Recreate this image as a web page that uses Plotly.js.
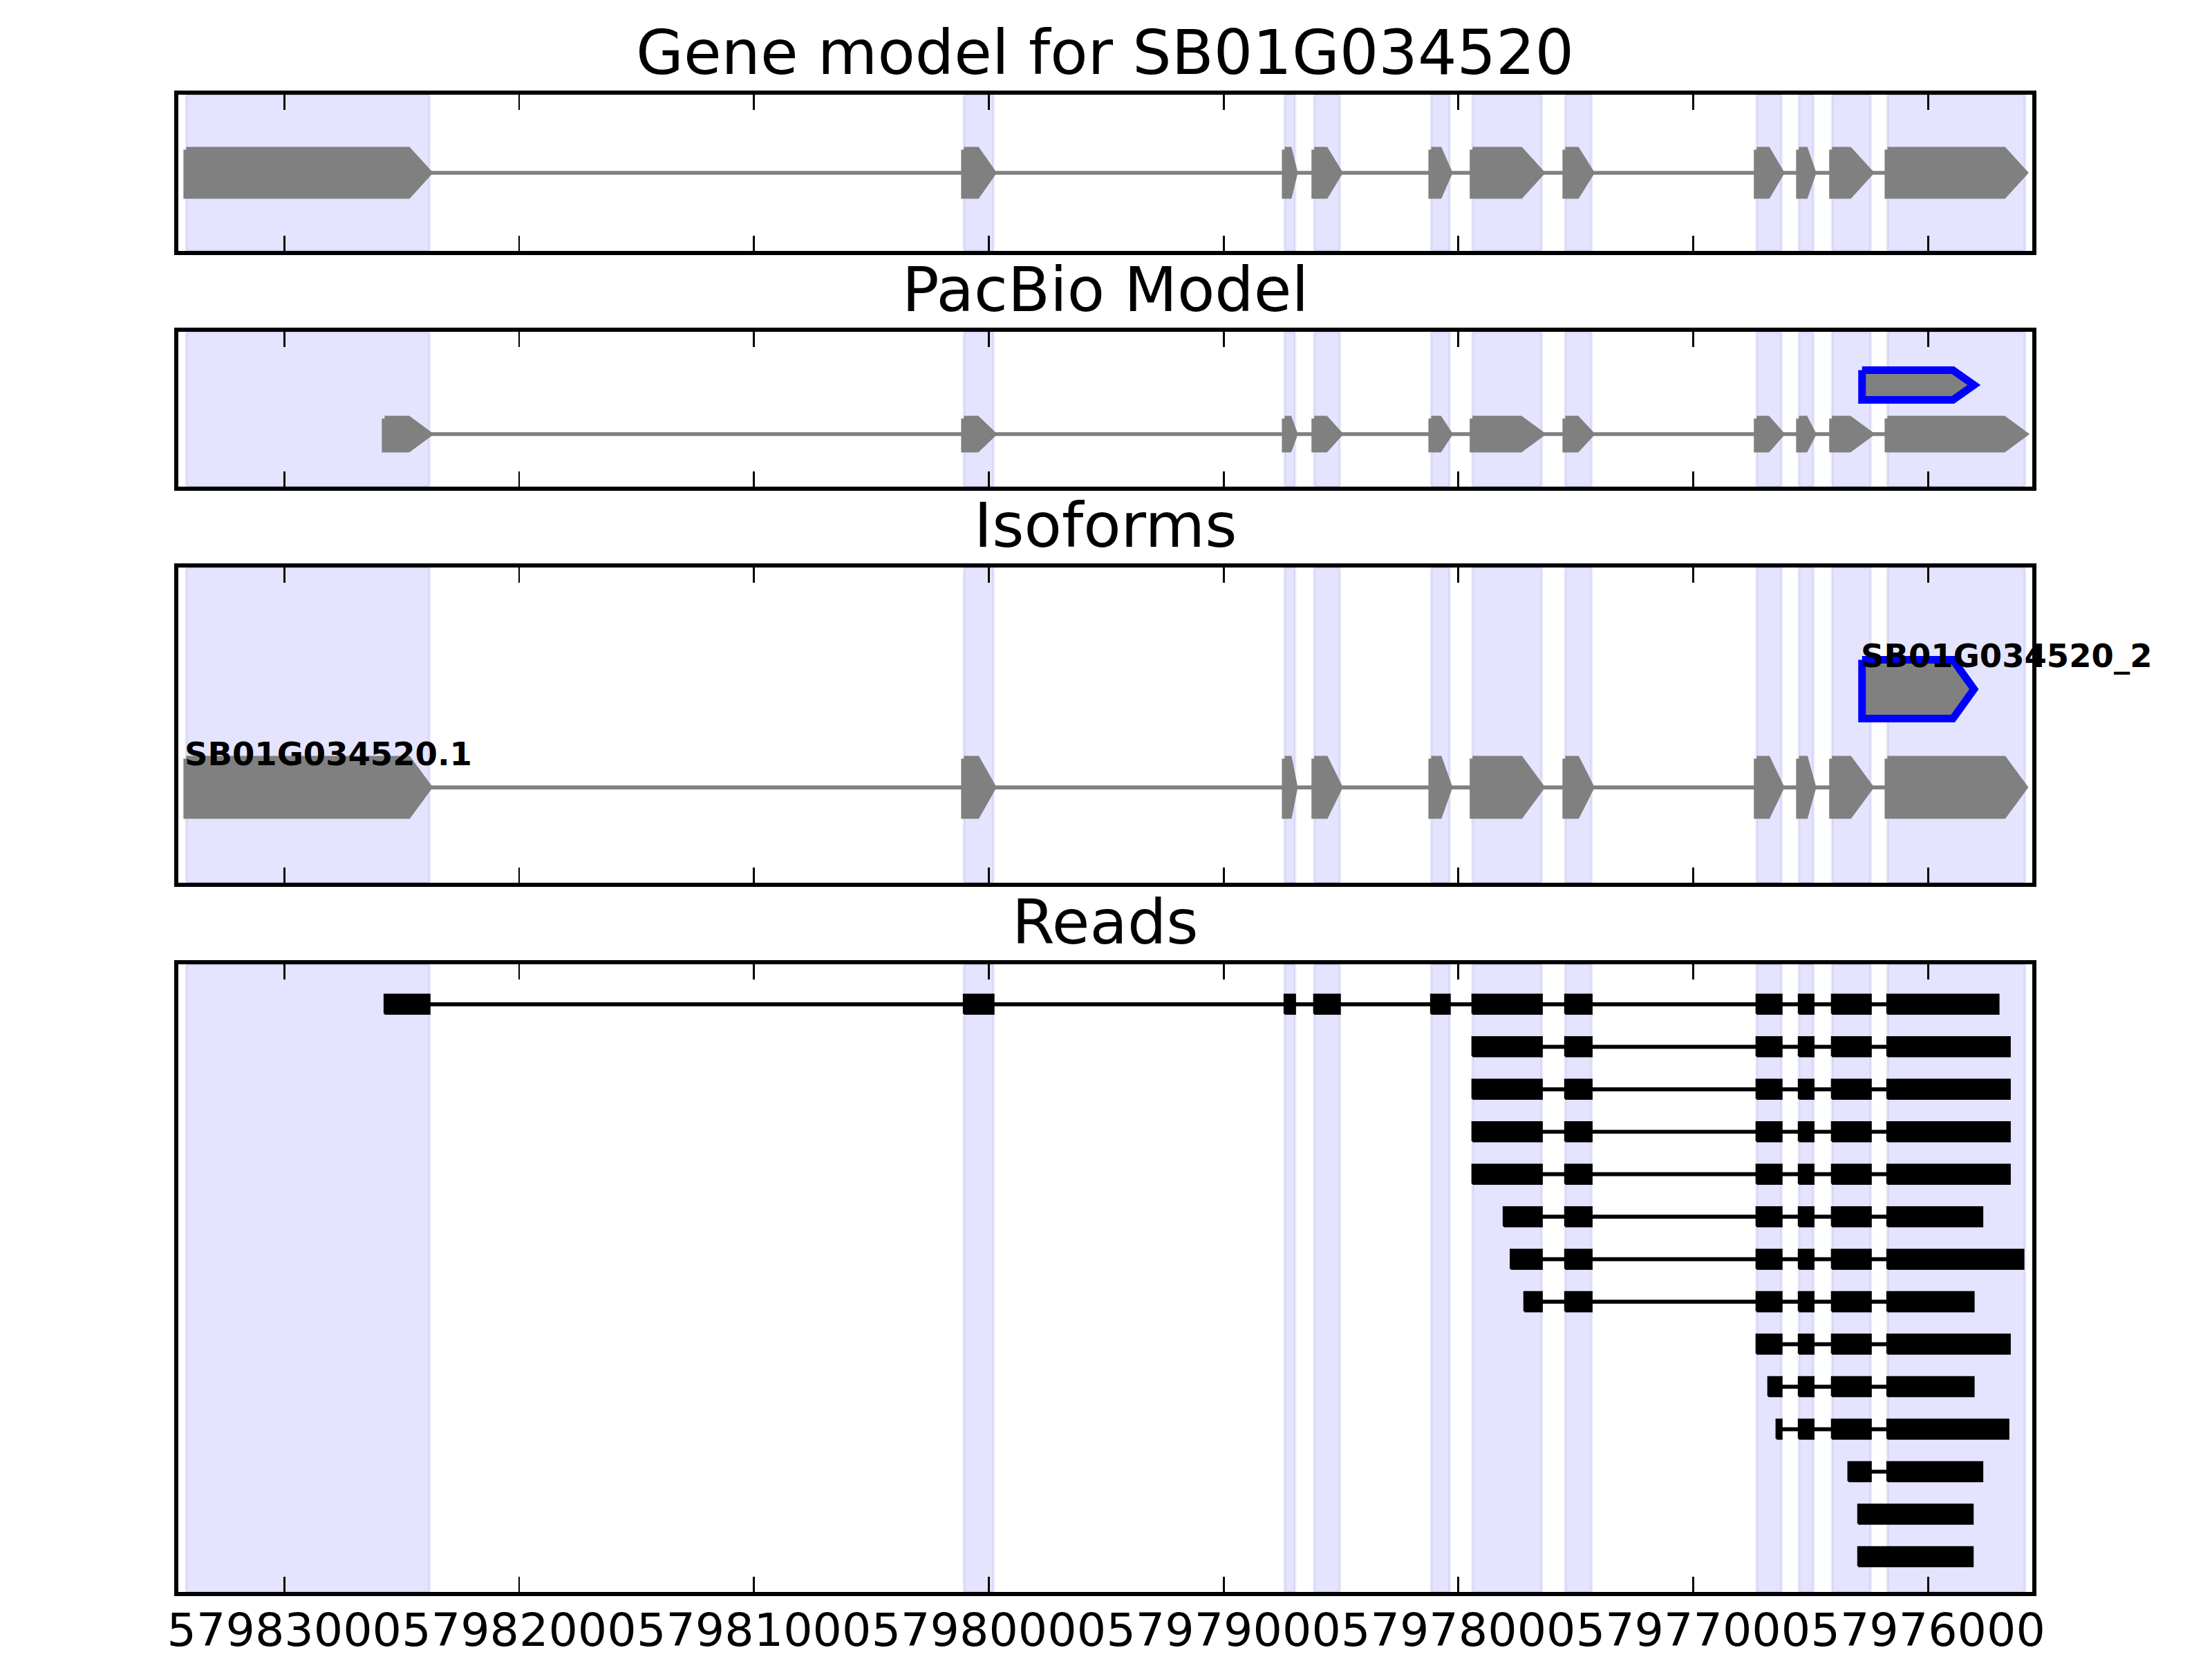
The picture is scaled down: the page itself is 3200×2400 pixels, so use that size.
<!DOCTYPE html>
<html><head><meta charset="utf-8">
<script src="https://cdn.plot.ly/plotly-3.0.1.min.js"></script>
<style>html,body{margin:0;padding:0;background:#fff}#chart{width:3200px;height:2400px}</style>
</head><body><div id="chart"></div>
<script>
// ---------------- data ----------------
const panelTitles = ['Gene model for SB01G034520', 'PacBio Model', 'Isoforms', 'Reads'];
const tickValues = [57983000, 57982000, 57981000, 57980000, 57979000, 57978000, 57977000, 57976000];
const tickLabels = ['57983000', '57982000', '57981000', '57980000', '57979000', '57978000', '57977000', '57976000'];
const xRange = [57983452, 57975556];

// exon regions (shaded spans), [high, low] genomic coordinates
const exonRegions = [
  [57983418, 57982382], [57980106, 57979980], [57978740, 57978696], [57978614, 57978505],
  [57978116, 57978037], [57977940, 57977645], [57977545, 57977433], [57976730, 57976624],
  [57976550, 57976488], [57976409, 57976244], [57976173, 57975587]
];
const geneModelExons = [
  [57983418, 57982382], [57980106, 57979980], [57978740, 57978696], [57978614, 57978505],
  [57978116, 57978037], [57977940, 57977645], [57977545, 57977433], [57976730, 57976624],
  [57976550, 57976488], [57976409, 57976244], [57976173, 57975587]
];
const pacbioModelExons = [
  [57982573, 57982382], [57980106, 57979980], [57978740, 57978696], [57978614, 57978505],
  [57978116, 57978037], [57977940, 57977645], [57977545, 57977433], [57976730, 57976624],
  [57976550, 57976488], [57976409, 57976244], [57976173, 57975587]
];
const pacbioNovelExons = [[57976281, 57975804]];
const isoformNames = ['SB01G034520.1', 'SB01G034520_2'];
const isoform1Exons = [
  [57983418, 57982382], [57980106, 57979980], [57978740, 57978696], [57978614, 57978505],
  [57978116, 57978037], [57977940, 57977645], [57977545, 57977433], [57976730, 57976624],
  [57976550, 57976488], [57976409, 57976244], [57976173, 57975587]
];
const isoform2Exons = [[57976281, 57975804]];

const read01 = [[57982573, 57982382], [57980106, 57979980], [57978740, 57978696], [57978614, 57978505], [57978116, 57978037], [57977940, 57977645], [57977545, 57977433], [57976730, 57976624], [57976550, 57976488], [57976409, 57976244], [57976173, 57975700]];
const read02 = [[57977940, 57977645], [57977545, 57977433], [57976730, 57976624], [57976550, 57976488], [57976409, 57976244], [57976173, 57975652]];
const read03 = [[57977940, 57977645], [57977545, 57977433], [57976730, 57976624], [57976550, 57976488], [57976409, 57976244], [57976173, 57975652]];
const read04 = [[57977940, 57977645], [57977545, 57977433], [57976730, 57976624], [57976550, 57976488], [57976409, 57976244], [57976173, 57975652]];
const read05 = [[57977940, 57977645], [57977545, 57977433], [57976730, 57976624], [57976550, 57976488], [57976409, 57976244], [57976173, 57975652]];
const read06 = [[57977807, 57977645], [57977545, 57977433], [57976730, 57976624], [57976550, 57976488], [57976409, 57976244], [57976173, 57975769]];
const read07 = [[57977777, 57977645], [57977545, 57977433], [57976730, 57976624], [57976550, 57976488], [57976409, 57976244], [57976173, 57975594]];
const read08 = [[57977719, 57977645], [57977545, 57977433], [57976730, 57976624], [57976550, 57976488], [57976409, 57976244], [57976173, 57975806]];
const read09 = [[57976730, 57976624], [57976550, 57976488], [57976409, 57976244], [57976173, 57975652]];
const read10 = [[57976680, 57976624], [57976550, 57976488], [57976409, 57976244], [57976173, 57975806]];
const read11 = [[57976645, 57976624], [57976550, 57976488], [57976409, 57976244], [57976173, 57975658]];
const read12 = [[57976339, 57976244], [57976173, 57975769]];
const read13 = [[57976297, 57975810]];
const read14 = [[57976297, 57975810]];
const reads = [read01, read02, read03, read04, read05, read06, read07, read08, read09, read10, read11, read12, read13, read14];

// ---------------- layout constants (style) ----------------
const FONT = 'DejaVu Sans';
const GRAY = '#808080';
const XDOM = [0.08056, 0.91875];
const YDOMS = [[0.84867, 0.943], [0.70658, 0.80008], [0.46783, 0.658], [0.04033, 0.41883]];
const YRANGES = [[-0.976, 0.976], [-1.074, 2.088], [-0.973, 2.241], [13.834, -0.944]];

function arrowPath(exons, y, half) {
  const xs = [], ys = [];
  exons.forEach(([hi, lo]) => {
    const len = hi - lo;
    const head = Math.min(90, 0.55 * len);
    xs.push(hi, lo + head, lo, lo + head, hi, hi, null);
    ys.push(y + half, y + half, y, y - half, y - half, y + half, null);
  });
  return {x: xs, y: ys};
}
function rectPath(exons, y, half) {
  const xs = [], ys = [];
  exons.forEach(([hi, lo]) => {
    xs.push(hi, lo, lo, hi, hi, null);
    ys.push(y + half, y + half, y - half, y - half, y + half, null);
  });
  return {x: xs, y: ys};
}
function spanOf(exons) {
  return [exons[0][0], exons[exons.length - 1][1]];
}

const traces = [];
function addModel(exons, y, half, axis, edgeColor, edgeWidth, intronColor) {
  const ax = axis === 1 ? '' : String(axis);
  if (exons.length > 1) {
    const s = spanOf(exons);
    traces.push({x: s, y: [y, y], xaxis: 'x' + ax, yaxis: 'y' + ax, mode: 'lines',
      line: {color: intronColor, width: 5.7}, hoverinfo: 'skip', showlegend: false});
  }
  const p = arrowPath(exons, y, half);
  traces.push({x: p.x, y: p.y, xaxis: 'x' + ax, yaxis: 'y' + ax, mode: 'lines', fill: 'toself',
    fillcolor: GRAY, line: {color: edgeColor, width: edgeWidth, shape: 'linear'}, hoverinfo: 'skip', showlegend: false});
}

// panel 1
addModel(geneModelExons, 0, 0.289, 1, GRAY, 8, GRAY);
// panel 2
addModel(pacbioModelExons, 0, 0.317, 2, GRAY, 8, GRAY);
addModel(pacbioNovelExons, 1, 0.303, 2, '#0000ff', 11, GRAY);
// panel 3
addModel(isoform1Exons, 0, 0.292, 3, GRAY, 8, GRAY);
addModel(isoform2Exons, 1, 0.299, 3, '#0000ff', 11, GRAY);
// panel 4 reads
reads.forEach((r, i) => {
  if (r.length > 1) {
    const s = spanOf(r);
    traces.push({x: s, y: [i, i], xaxis: 'x4', yaxis: 'y4', mode: 'lines',
      line: {color: '#000', width: 5.7}, hoverinfo: 'skip', showlegend: false});
  }
  const p = rectPath(r, i, 0.224);
  traces.push({x: p.x, y: p.y, xaxis: 'x4', yaxis: 'y4', mode: 'lines', fill: 'toself',
    fillcolor: '#000', line: {color: '#000', width: 3}, hoverinfo: 'skip', showlegend: false});
});

// ---------------- layout ----------------
const layout = {
  width: 3200, height: 2400,
  margin: {l: 0, r: 0, t: 0, b: 0},
  paper_bgcolor: '#fff', plot_bgcolor: 'rgba(0,0,0,0)',
  showlegend: false,
  font: {family: FONT, color: '#000'},
  shapes: [], annotations: []
};
for (let k = 1; k <= 4; k++) {
  const ax = k === 1 ? '' : String(k);
  layout['xaxis' + ax] = {
    domain: XDOM, anchor: 'y' + ax, range: xRange, autorange: false,
    tickmode: 'array', tickvals: tickValues, ticktext: tickLabels, tickangle: 0,
    ticks: 'inside', ticklen: 22, tickwidth: 2.8, tickcolor: '#000',
    showline: true, linewidth: 5.6, linecolor: '#000', mirror: 'ticks',
    showgrid: false, zeroline: false, showticklabels: k === 4,
    ticklabelstandoff: -8,
    tickfont: {family: FONT, size: 66.7, color: '#000'}, fixedrange: true
  };
  layout['yaxis' + ax] = {
    domain: YDOMS[k - 1], anchor: 'x' + ax, range: YRANGES[k - 1], autorange: false,
    showline: true, linewidth: 5.6, linecolor: '#000', mirror: true,
    ticks: '', showticklabels: false, showgrid: false, zeroline: false, fixedrange: true
  };
  exonRegions.forEach(([hi, lo]) => {
    layout.shapes.push({type: 'rect', xref: 'x' + ax, yref: 'y' + ax + ' domain',
      x0: hi, x1: lo, y0: 0, y1: 1, fillcolor: 'rgba(0,0,255,0.105)',
      line: {color: 'rgba(0,0,150,0.07)', width: 4}, layer: 'below'});
  });
  layout.annotations.push({text: panelTitles[k - 1], xref: 'paper', yref: 'paper',
    x: (XDOM[0] + XDOM[1]) / 2, y: YDOMS[k - 1][1], xanchor: 'center', yanchor: 'bottom',
    yshift: 7, showarrow: false, font: {family: FONT, size: 88.9, color: '#000'}});
}
// isoform labels
[[isoform1Exons, 0], [isoform2Exons, 1]].forEach(([ex, row], i) => {
  layout.annotations.push({text: '<b>' + isoformNames[i] + '</b>', xref: 'x3', yref: 'y3',
    x: ex[0][0], y: row, xanchor: 'left', yanchor: 'bottom', yshift: 19, xshift: -4,
    showarrow: false, font: {family: FONT, size: 46.5, color: '#000'}});
});

Plotly.newPlot('chart', traces, layout, {staticPlot: true, displayModeBar: false});
</script></body></html>
